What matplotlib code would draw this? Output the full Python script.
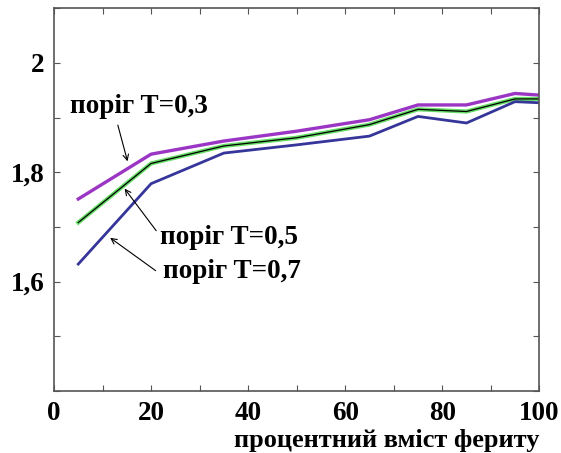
import numpy as np
import matplotlib.pyplot as plt

# Ferrite content (%) and values for each threshold
x = [5, 20, 35, 50, 65, 75, 85, 95, 100]
t03 = [1.751, 1.833, 1.857, 1.875, 1.896, 1.923, 1.923, 1.944, 1.941]
t05 = [1.708, 1.816, 1.848, 1.863, 1.887, 1.915, 1.911, 1.934, 1.934]
t07 = [1.632, 1.779, 1.835, 1.850, 1.866, 1.902, 1.890, 1.929, 1.927]

xticks = [0, 20, 40, 60, 80, 100]
yticks = [1.6, 1.8, 2.0]
ytick_labels = ["1,6", "1,8", "2"]

plt.rcParams['font.family'] = ['Liberation Serif', 'DejaVu Serif']
plt.rcParams['font.weight'] = 'bold'

fig = plt.figure(figsize=(5.61, 4.53), dpi=100)
ax = fig.add_axes([0.0963, 0.137, 0.865, 0.845])

ax.plot(x, t03, color="#9b35c4", lw=2.4)
ax.plot(x, t05, color="#66dd66", lw=3.0)
ax.plot(x, t05, color="black", lw=0.9)
ax.plot(x, t07, color="#35359a", lw=2.0)

ax.set_xlim(0, 100)
ax.set_ylim(1.4, 2.1)
ax.set_xticks(xticks)
ax.set_xticks(np.arange(0, 101, 10), minor=True)
ax.set_yticks(yticks)
ax.set_yticklabels(ytick_labels)
ax.set_yticks(np.arange(1.4, 2.11, 0.1), minor=True)
ax.tick_params(which="both", direction="in", top=True, right=True,
               length=4, width=0.8, color="#555555")
ax.tick_params(axis="both", which="major", labelsize=19.5, pad=7)
for lab in ax.get_xticklabels() + ax.get_yticklabels():
    lab.set_fontweight("bold")
for sp in ax.spines.values():
    sp.set_color("#555555")
    sp.set_linewidth(1.2)

ax.text(1.0, -0.13, "процентний вміст фериту", transform=ax.transAxes,
        ha="right", va="center", fontsize=19, fontweight="bold")

arrow = dict(arrowstyle="->", lw=0.8, color="black")
ax.text(3.3, 1.921, "поріг T=0,3", fontsize=19.5, fontweight="bold", va="center")
ax.annotate("", xy=(15.3, 1.815), xytext=(13.0, 1.891), arrowprops=arrow)
ax.text(21.9, 1.68, "поріг T=0,5", fontsize=19.5, fontweight="bold", va="center")
ax.annotate("", xy=(14.2, 1.774), xytext=(21.4, 1.689), arrowprops=arrow)
ax.text(22.5, 1.619, "поріг T=0,7", fontsize=19.5, fontweight="bold", va="center")
ax.annotate("", xy=(11.1, 1.683), xytext=(21.4, 1.617), arrowprops=arrow)

fig.savefig("out.png", dpi=100)
